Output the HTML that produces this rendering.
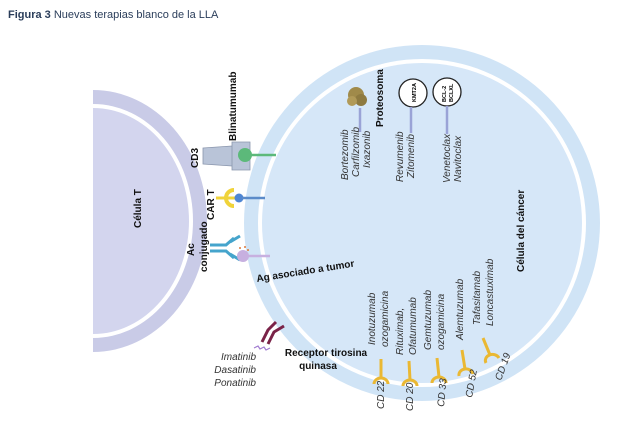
<!DOCTYPE html>
<html><head><meta charset="utf-8"><style>
html,body{margin:0;padding:0;background:#fff;width:630px;height:423px;overflow:hidden}
svg{display:block;font-family:"Liberation Sans",Arial,sans-serif}
.it{font-style:italic;font-size:10px;fill:#333}
.b{font-weight:bold;font-size:10px;fill:#111}
</style></head><body>
<svg width="630" height="423" viewBox="0 0 630 423">
<text x="8" y="18" font-size="11" fill="#2a3d5a"><tspan font-weight="bold">Figura 3</tspan> Nuevas terapias blanco de la LLA</text>
<defs><clipPath id="tc"><rect x="93" y="0" width="200" height="423"/></clipPath></defs>
<g clip-path="url(#tc)">
<ellipse cx="93" cy="221" rx="114" ry="131" fill="#c9cbe7"/>
<ellipse cx="93" cy="221" rx="100" ry="117" fill="#fff"/>
<ellipse cx="93" cy="221" rx="96" ry="113" fill="#d3d5ee"/>
</g>
<circle cx="422" cy="223" r="178" fill="#d0e4f6"/>
<circle cx="422" cy="223" r="164" fill="#fff"/>
<circle cx="422" cy="223" r="160" fill="#d6e7f8"/>
<text class="b" transform="translate(141,228) rotate(-90)">Célula T</text>
<text class="b" transform="translate(524,272) rotate(-90)" font-size="11">Célula del cáncer</text>
<text class="b" transform="translate(236,141) rotate(-90)">Blinatumumab</text>
<text class="b" transform="translate(198,168) rotate(-90)">CD3</text>
<text class="b" transform="translate(214,220) rotate(-90)">CAR T</text>
<text class="b" transform="translate(194,256) rotate(-90)">Ac</text>
<text class="b" transform="translate(207,272) rotate(-90)">conjugado</text>
<text class="b" transform="translate(257,282) rotate(-9)">Ag asociado a tumor</text>
<path d="M203 148 L232 146 L240 150 L240 162 L232 166 L203 164 Z" fill="#b9c4d8" stroke="#8a96ad" stroke-width="0.8"/>
<path d="M232 142 L250 142 L250 170 L232 170 Z" fill="#b9c4d8" stroke="#8a96ad" stroke-width="0.8"/>
<circle cx="245" cy="155" r="7" fill="#5cb97a"/>
<line x1="250" y1="155" x2="276" y2="155" stroke="#5cb97a" stroke-width="2.5"/>
<line x1="216" y1="198" x2="236" y2="198" stroke="#f0d33a" stroke-width="3"/>
<path d="M234 190 A8 8 0 0 0 234 206" fill="none" stroke="#f0d33a" stroke-width="4"/>
<circle cx="239" cy="198" r="4.5" fill="#4f86d3"/>
<line x1="242" y1="198" x2="265" y2="198" stroke="#5b8bc9" stroke-width="2.5"/>
<g stroke="#45a4cc" stroke-width="3" fill="none">
<path d="M210 245 L226 245 L234 238"/><path d="M210 251 L226 251 L234 258"/>
<path d="M230 242 L240 236"/><path d="M230 254 L240 260"/>
</g>
<circle cx="243" cy="256" r="6" fill="#c7b0e0"/>
<line x1="248" y1="256" x2="270" y2="256" stroke="#c7b0e0" stroke-width="2.5"/>
<circle cx="240" cy="248" r="1" fill="#e07a3a"/><circle cx="245" cy="247" r="1" fill="#e07a3a"/><circle cx="248" cy="250" r="1" fill="#e07a3a"/>
<circle cx="356" cy="95" r="8" fill="#a08a4a"/><circle cx="361" cy="100" r="6" fill="#8e7a40"/><circle cx="352" cy="101" r="5" fill="#b19a58"/>
<line x1="360" y1="108" x2="360" y2="132" stroke="#9aa3d6" stroke-width="2.5"/>
<text class="b" transform="translate(383,127) rotate(-90)" font-size="11">Proteosoma</text>
<text class="it" transform="translate(348,180) rotate(-90)">Bortezomib</text>
<text class="it" transform="translate(359,177) rotate(-90)">Carfilzomib</text>
<text class="it" transform="translate(370,168) rotate(-90)">Ixazonib</text>
<circle cx="413" cy="93" r="14" fill="#fff" stroke="#222" stroke-width="1.3"/>
<text transform="translate(416,102) rotate(-90)" font-size="5.5" font-weight="bold">KMT2A</text>
<line x1="411" y1="107" x2="411" y2="133" stroke="#9aa3d6" stroke-width="2.5"/>
<text class="it" transform="translate(403,182) rotate(-90)">Revumenib</text>
<text class="it" transform="translate(414,178) rotate(-90)">Zitomenib</text>
<circle cx="447" cy="92" r="14" fill="#fff" stroke="#222" stroke-width="1.3"/>
<text transform="translate(446,102) rotate(-90)" font-size="5.5" font-weight="bold">BCL-2</text>
<text transform="translate(453,102) rotate(-90)" font-size="5.5" font-weight="bold">BCLXL</text>
<line x1="447" y1="106" x2="447" y2="134" stroke="#9aa3d6" stroke-width="2.5"/>
<text class="it" transform="translate(450,183) rotate(-90)">Venetoclax</text>
<text class="it" transform="translate(461,182) rotate(-90)">Navitoclax</text>
<text class="it" transform="translate(375,345) rotate(-90)">Inotuzumab</text>
<text class="it" transform="translate(388,347) rotate(-90)">ozogamicina</text>
<text class="it" transform="translate(403,355) rotate(-90)">Rituximab,</text>
<text class="it" transform="translate(416,355) rotate(-90)">Ofatumumab</text>
<text class="it" transform="translate(431,350) rotate(-90)">Gemtuzumab</text>
<text class="it" transform="translate(444,350) rotate(-90)">ozogamicina</text>
<text class="it" transform="translate(463,340) rotate(-90)">Alemtuzumab</text>
<text class="it" transform="translate(480,325) rotate(-90)">Tafasitamab</text>
<text class="it" transform="translate(493,326) rotate(-90)">Loncastuximab</text>
<g stroke="#eab833" stroke-width="3" fill="none">
<line x1="381" y1="359" x2="381" y2="378"/><path d="M374 384 A7 6 0 0 1 388 384"/>
<line x1="409" y1="361" x2="410" y2="380"/><path d="M403 386 A7 6 0 0 1 417 386"/>
<line x1="437" y1="358" x2="439" y2="377"/><path d="M432 383 A7 6 0 0 1 446 383"/>
<line x1="462" y1="350" x2="465" y2="369"/><path d="M459 376 A7 6 0 0 1 473 374"/>
<line x1="483" y1="338" x2="490" y2="355"/><path d="M486 363 A7 6 0 0 1 499 358"/>
</g>
<text class="it" transform="translate(384,409) rotate(-90)">CD 22</text>
<text class="it" transform="translate(413,411) rotate(-90)">CD 20</text>
<text class="it" transform="translate(444,407) rotate(-85)">CD 33</text>
<text class="it" transform="translate(472,398) rotate(-80)">CD 52</text>
<text class="it" transform="translate(501,381) rotate(-70)">CD 19</text>
<g stroke="#7a2348" stroke-width="3" fill="none">
<path d="M262 342 L268 330 L276 322"/><path d="M268 344 L274 332 L284 326"/>
</g>
<path d="M254 348 l4 -2 l2 3 l4 -2 l2 3 l4 -2" stroke="#a07ad0" stroke-width="1.2" fill="none"/>
<text class="b" x="326" y="356" text-anchor="middle">Receptor tirosina</text>
<text class="b" x="318" y="369" text-anchor="middle">quinasa</text>
<text class="it" x="256" y="360" text-anchor="end">Imatinib</text>
<text class="it" x="256" y="373" text-anchor="end">Dasatinib</text>
<text class="it" x="256" y="386" text-anchor="end">Ponatinib</text>
</svg>
</body></html>
